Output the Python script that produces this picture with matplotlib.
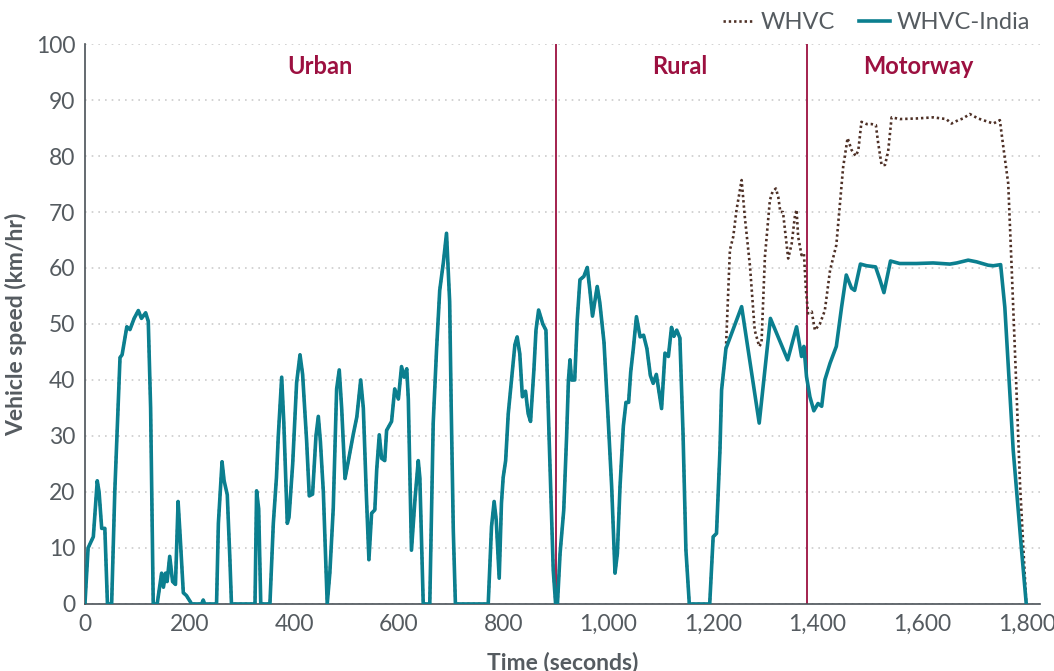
import matplotlib
matplotlib.use("Agg")
import matplotlib.pyplot as plt
from matplotlib.ticker import FuncFormatter

plt.rcParams['font.family'] = ['Lato', 'DejaVu Sans']

# time (s) / speed (km/h) -- urban + rural part shared by both cycles
t_common = [0, 6, 16, 23.5, 27, 32, 38, 43, 51, 57, 62, 67, 71, 80, 86, 94, 102, 108, 116, 121,
            125.5, 130.5, 138, 146.5, 150, 154, 157, 162, 167.5, 173, 178, 182, 188, 194, 204, 223,
            226, 229, 251.5, 255, 262, 266, 272, 277, 280, 325, 328, 332, 336, 353.5, 360, 366,
            369.5, 376, 380, 386.7, 390, 397, 404.5, 411, 416, 423.6, 428.7, 435, 441.5, 446, 450,
            455.6, 463, 468, 474.5, 481, 486, 490.6, 497, 503.5, 513, 519.6, 527, 532, 538, 542.7,
            547.8, 554, 557.6, 562.5, 567, 573, 576.5, 586, 592, 599, 605, 610, 615, 618, 624, 631,
            637, 640, 646.5, 659, 665.6, 672, 678, 685, 691, 697, 700, 704, 708, 770.7, 777, 782,
            786, 791.7, 796, 799.3, 804, 809, 812, 817, 821.7, 826, 831, 836, 842, 847, 851.6, 858,
            862, 867, 875, 881, 887, 895, 899.5, 903, 908, 915, 920.5, 924, 927, 930, 936, 940.8,
            946, 953.5, 960, 965, 970, 974, 979, 984, 992, 1000, 1006.6, 1013, 1017.5, 1022.6,
            1029, 1034, 1039, 1043, 1048, 1054, 1061, 1067.6, 1074, 1080.6, 1086, 1092, 1102,
            1108.5, 1115, 1121, 1125.6, 1131, 1137, 1143, 1148.5, 1155, 1194, 1200.6, 1207,
            1213.6, 1216.7, 1225]
v_common = [0, 10, 12, 22, 20, 13.5, 13.5, 0, 0, 20, 32, 44, 44.5, 49.5, 49, 51, 52.4, 51, 52, 50.5,
            35, 0, 0, 5.5, 3, 5.5, 4, 8.5, 4, 3.5, 18.3, 12, 2, 1.5, 0, 0,
            0.7, 0, 0, 14.4, 25.4, 22, 19.5, 8, 0, 0, 20.2, 17, 0, 0, 14.4, 22.6,
            30, 40.5, 32.5, 14.4, 15.5, 25, 39.5, 44.5, 41, 29.2, 19.3, 19.6, 30, 33.5, 29,
            20, 0, 5.5, 17, 38.4, 41.8, 35, 22.4, 25.6, 30.4, 33.4, 40, 35, 19, 7.9,
            16.2, 16.8, 24, 30.2, 26, 25.6, 31, 32.6, 38.4, 36.6, 42.4, 40.5, 42, 36.6, 9.6, 19,
            25.6, 22.6, 0, 0, 32.4, 45.5, 56, 61, 66.2, 54, 35, 13, 0, 0, 13.8, 18.3,
            15, 4.6, 18, 22.6, 25.6, 34, 36.9, 41.8, 46.3, 47.7, 44.7, 37, 38, 34, 32.6, 41.8,
            48.9, 52.5, 50, 48.9, 29.9, 6, 0, 0, 9, 16.7, 29.9, 40, 43.6, 40, 40, 50.7,
            57.9, 58.5, 60.1, 56, 51.4, 53.8, 56.7, 53.8, 46.7, 32.9, 21, 5.5, 9, 21,
            31.8, 36, 36, 41.4, 45.6, 51.3, 47.7, 48, 45.6, 40.8, 39.4, 41, 34.9,
            44.8, 44.2, 49.4, 47.8, 48.9, 47.5, 30.5, 9.7, 0, 0, 12, 12.6,
            27.5, 38.2, 45.6]

# WHVC-India after the two curves split
t_india = [1255, 1288.6, 1310, 1343, 1360, 1369.5, 1374, 1379, 1385.5, 1393, 1401, 1408, 1414, 1424,
           1436, 1446, 1455, 1465, 1471, 1482, 1494, 1511, 1519, 1527, 1533.5, 1539.5, 1557, 1589,
           1621, 1653, 1666, 1688, 1704, 1726, 1736, 1750, 1758, 1774, 1790, 1799]
v_india = [53.1, 32.3, 51, 43.6, 49.5, 44.2, 46, 40.6, 37, 34.5, 35.8, 35.3, 40, 43,
           46, 53, 58.75, 56.4, 56, 60.7, 60.4, 60.2, 58, 55.6, 58.5, 61.25, 60.8, 60.8,
           60.9, 60.7, 60.9, 61.4, 61.1, 60.5, 60.4, 60.6, 53, 27.5, 9.6, 0]

# WHVC after the split
t_whvc = [1232.6, 1239, 1245.3, 1255, 1261, 1271, 1280, 1288.6, 1293, 1299.5, 1309, 1314, 1320.5,
          1325, 1329, 1334, 1344, 1350.6, 1357, 1360, 1363, 1369.5, 1374, 1378, 1382, 1389, 1395,
          1404.5, 1414, 1424, 1436, 1449, 1457.5, 1465, 1473, 1478, 1484, 1494, 1503.5, 1511.6,
          1516, 1522.5, 1529, 1535, 1541.6, 1557.5, 1589, 1621, 1646, 1656, 1669, 1678, 1691,
          1707, 1720, 1736, 1748.5, 1756, 1764.5, 1771, 1780.5, 1787, 1799]
v_whvc = [63.2, 65.6, 70.4, 75.7, 69.2, 60.3, 48.9, 46, 46.6, 62, 72.1, 73.6, 74.2,
          72.7, 70, 70, 61.7, 64.3, 69.4, 70.4, 65.6, 62.3, 62.6, 56, 51.9, 52.2, 48.9,
          50, 52.4, 59.6, 64.1, 78, 83.2, 81.1, 80, 81, 86.1, 85.7, 85.7, 85.5,
          82.3, 78.4, 78.4, 80.8, 86.9, 86.6, 86.7, 86.9, 86.6, 85.8, 86.4, 86.7, 87.5,
          86.7, 86.3, 85.8, 86.4, 81, 75.1, 60.2, 37.6, 21.5, 0]

phase_bounds = [900, 1380]
phase_names = ["Urban", "Rural", "Motorway"]
phase_label_x = [449, 1137, 1592]

teal = '#0b7f8f'
brown = '#4e3026'
crimson = '#9c1040'
grey = '#555b60'

fig = plt.figure(figsize=(10.54, 6.71), dpi=100)
ax = fig.add_axes([0.0806, 0.0999, 0.906, 0.8345])

ax.plot(t_common + t_india, v_common + v_india, color=teal, lw=2.6, label='WHVC-India',
        zorder=4, solid_joinstyle='round')
ax.plot(t_common + t_whvc, v_common + v_whvc, color=brown, lw=1.9, ls=(0, (0.9, 1.1)),
        label='WHVC', zorder=3)

for xb in phase_bounds:
    ax.axvline(xb, color=crimson, lw=1.3, zorder=2)
for name, xp in zip(phase_names, phase_label_x):
    ax.text(xp, 95.9, name, color=crimson, fontsize=17, fontweight='bold',
            ha='center', va='center')

ax.set_xlim(0, 1825)
ax.set_ylim(0, 100)
ax.set_yticks(range(0, 101, 10))
ax.set_xticks(range(0, 1801, 200))
ax.xaxis.set_major_formatter(FuncFormatter(lambda x, p: f"{int(x):,}"))
ax.grid(axis='y', color='#cccccc', ls=(0, (1, 3)), lw=1.2)
ax.set_axisbelow(True)
ax.tick_params(length=0, labelsize=16.5, colors=grey, pad=7)
for s in ['top', 'right']:
    ax.spines[s].set_visible(False)
for s in ['left', 'bottom']:
    ax.spines[s].set_color('#4a5258')
    ax.spines[s].set_linewidth(1.2)

ax.set_xlabel("Time (seconds)", fontsize=16.5, fontweight='bold', color=grey, labelpad=12)
ax.set_ylabel("Vehicle speed (km/hr)", fontsize=16.5, fontweight='bold', color=grey, labelpad=6)

handles, labels = ax.get_legend_handles_labels()
leg = ax.legend(handles[::-1], labels[::-1], loc='upper right', bbox_to_anchor=(1.012, 1.095),
                ncol=2, frameon=False, fontsize=17, handlelength=1.3, columnspacing=1.0,
                handletextpad=0.3)
for txt in leg.get_texts():
    txt.set_color(grey)

fig.savefig("out.png", dpi=100)
